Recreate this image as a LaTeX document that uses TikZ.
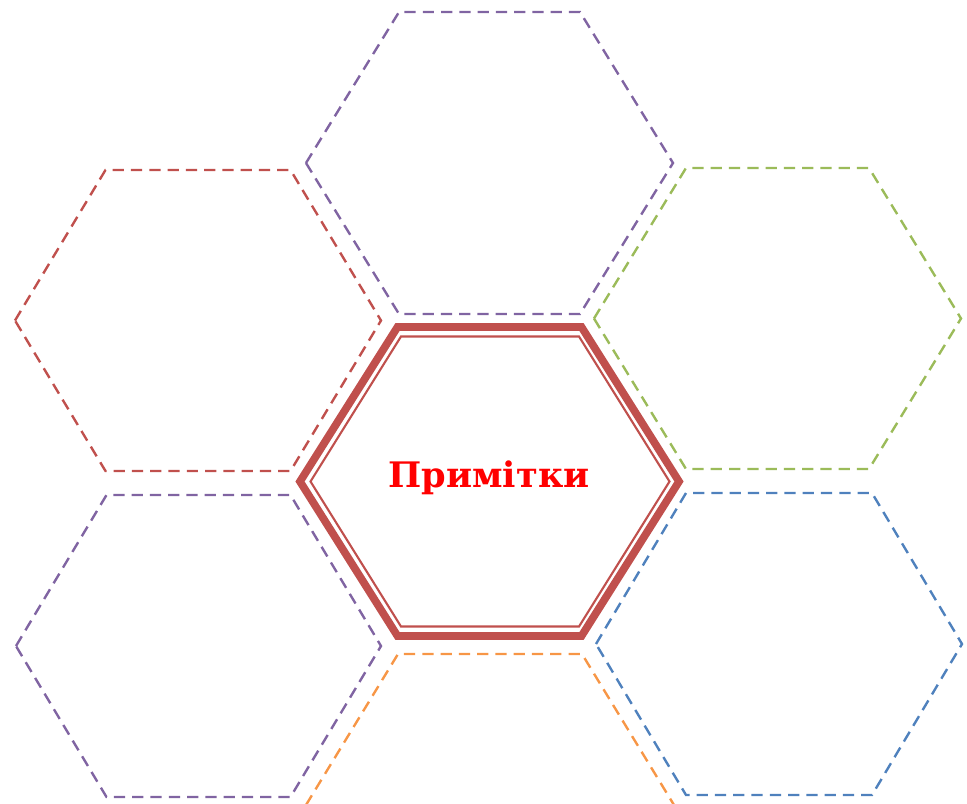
\documentclass[tikz,border=0pt]{standalone}
\usepackage{fontspec}
\newfontfamily\notefont{DejaVu Serif}
\usetikzlibrary{positioning}

% hexagon: style, centre x, centre y, half width, half top edge, half height
\newcommand{\hexcell}[6]{%
  \draw[#1] (#2-#4,#3) -- (#2-#5,#3-#6) -- (#2+#5,#3-#6) -- (#2+#4,#3)
    -- (#2+#5,#3+#6) -- (#2-#5,#3+#6) -- cycle;}

\definecolor{hexred}{HTML}{C0504D}
\definecolor{hexpurple}{HTML}{8064A2}
\definecolor{hexgreen}{HTML}{9BBB59}
\definecolor{hexblue}{HTML}{4F81BD}
\definecolor{hexorange}{HTML}{F79646}

\begin{document}
\begin{tikzpicture}[x=0.025cm, y=-0.025cm, line join=miter,
        cell/.style={draw, line width=1.7pt, dash pattern=on 8pt off 5pt},
        title/.style={font=\notefont\bfseries\fontsize{25}{30}\selectfont,
        text=red, inner sep=0pt}]
      \useasboundingbox (0,0) rectangle (967,803);
      \clip (0,0) rectangle (967,803);
      % outer ring of cells
      \hexcell{cell, hexpurple}{489.5}{163}{183.5}{90.5}{151}
      \hexcell{cell, hexred}{198}{320.5}{183}{92.5}{150.5}
      \hexcell{cell, hexgreen}{777.5}{318.5}{183.5}{91.5}{150.5}
      \hexcell{cell, hexpurple}{198.5}{646}{182.5}{92}{151}
      \hexcell{cell, hexblue}{779}{644}{183}{93}{151}
      \hexcell{cell, hexorange}{490}{805}{184}{92}{151}
      % centre cell
      \hexcell{draw=hexred, line width=5.5pt}{489.5}{481.5}{189.5}{92}{154.5}
      \hexcell{draw=hexred, line width=1.5pt}{490}{481.5}{179.5}{89}{145}
      \node[title, anchor=base] (notes) at (489,487) {Примітки};
    \end{tikzpicture}
\end{document}
